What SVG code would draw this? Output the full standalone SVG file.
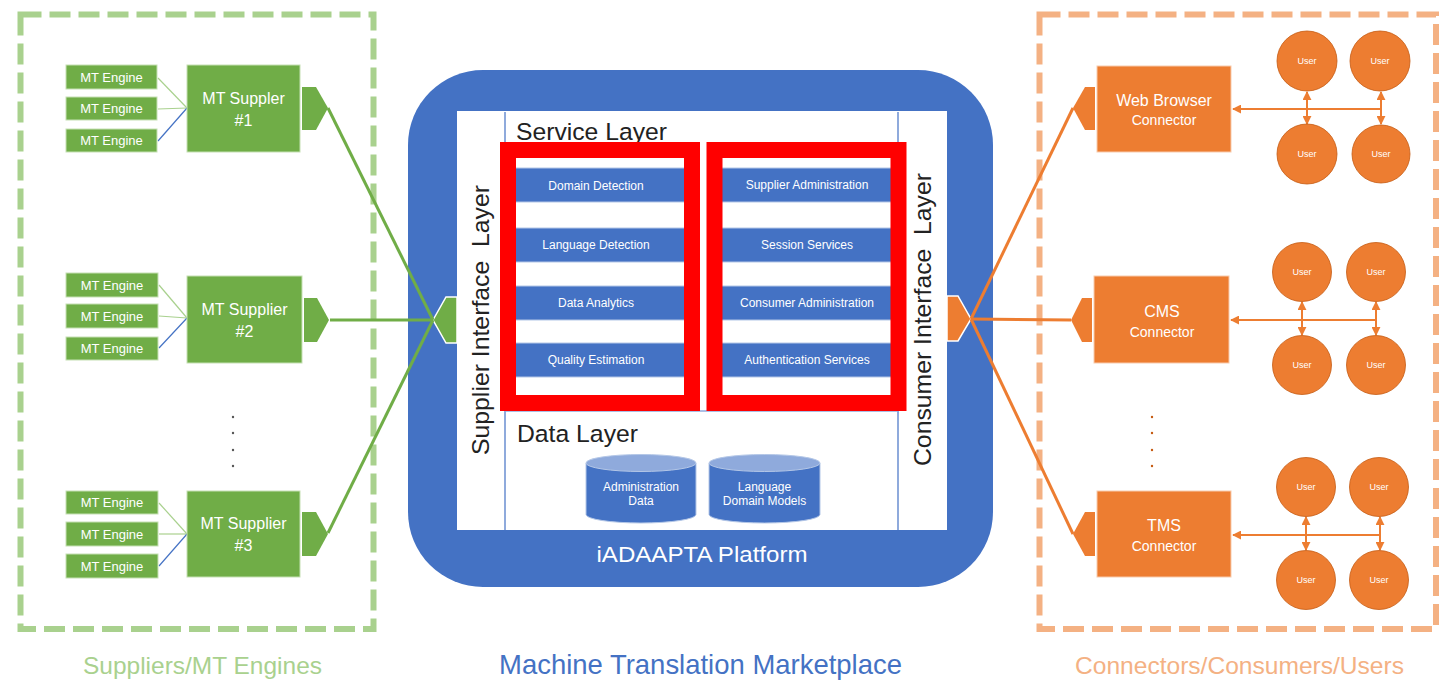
<svg xmlns="http://www.w3.org/2000/svg" width="1439" height="681" viewBox="0 0 1439 681">
<defs>
<style>
.t{font-family:"Liberation Sans",Arial,sans-serif;text-anchor:middle;fill:#fff}
.h{font-family:"Liberation Sans",Arial,sans-serif;fill:#222}
.eng{fill:#70ad47;stroke:#c5e0b4;stroke-width:1}
.sup{fill:#70ad47;stroke:#c5e0b4;stroke-width:1}
.svc{fill:#4472c4;stroke:#b4c7e7;stroke-width:1}
.usr{fill:#ed7d31;stroke:#c55a11;stroke-width:0.8}
.con{fill:#ed7d31;stroke:#f8cbad;stroke-width:1}
.gl{stroke:#70ad47;stroke-width:3;fill:none}
.ol{stroke:#ed7d31;stroke-width:3;fill:none}
.el{stroke:#a9d18e;stroke-width:1.2}
.eb{stroke:#4472c4;stroke-width:1.2}
.ua{stroke:#ed7d31;stroke-width:2;fill:none}
.red{fill:none;stroke:#ff0000;stroke-width:16}
.div{stroke:#8faadc;stroke-width:2}
</style>
<marker id="ah" viewBox="0 0 10 10" refX="9" refY="5" markerWidth="9" markerHeight="9" markerUnits="userSpaceOnUse" orient="auto-start-reverse">
<path d="M0,0 L10,5 L0,10 Z" fill="#ed7d31"/>
</marker>
</defs>
<rect width="1439" height="681" fill="#ffffff"/>

<!-- group frames -->
<g id="suppliers-frame">
<rect x="20.5" y="14.5" width="353" height="614.5" fill="none" stroke="#a9d18e" stroke-width="6" stroke-dasharray="21 8"/>
<text x="202.5" y="674" font-family="Liberation Sans,Arial,sans-serif" font-size="24.5" fill="#a9d18e" text-anchor="middle" textLength="239" lengthAdjust="spacingAndGlyphs">Suppliers/MT Engines</text>
</g>
<g id="consumers-frame">
<rect x="1039.5" y="14.5" width="396.5" height="614.5" fill="none" stroke="#f4b183" stroke-width="6" stroke-dasharray="21 8"/>
<text x="1239.5" y="674" font-family="Liberation Sans,Arial,sans-serif" font-size="24.5" fill="#f4b183" text-anchor="middle" textLength="329" lengthAdjust="spacingAndGlyphs">Connectors/Consumers/Users</text>
</g>

<!-- platform -->
<g id="platform">
<rect x="408" y="70" width="585" height="517" rx="75" ry="75" fill="#4472c4"/>
<rect x="457" y="111" width="490" height="419" fill="#ffffff"/>
<line class="div" x1="505" y1="112" x2="505" y2="530"/>
<line class="div" x1="898" y1="112" x2="898" y2="530"/>
<line stroke="#8faadc" stroke-width="1.5" x1="505" y1="411" x2="898" y2="411"/>
<text class="t" x="702" y="562" font-size="21.5" textLength="211" lengthAdjust="spacingAndGlyphs">iADAAPTA Platform</text>
</g>
<text id="marketplace-label" x="700.5" y="674" font-family="Liberation Sans,Arial,sans-serif" font-size="27.4" fill="#4472c4" text-anchor="middle" textLength="403" lengthAdjust="spacingAndGlyphs">Machine Translation Marketplace</text>

<g id="supplier-interface-layer">
<text class="h" xml:space="preserve" transform="translate(489,320) rotate(-90)" font-size="24.5" text-anchor="middle" textLength="270" lengthAdjust="spacingAndGlyphs">Supplier Interface  Layer</text>
<polygon points="433,320 446,297 457,297 457,343 446,343" fill="#70ad47" stroke="#ffffff" stroke-width="1.5"/>
</g>
<g id="consumer-interface-layer">
<text class="h" xml:space="preserve" transform="translate(931,319.5) rotate(-90)" font-size="24.5" text-anchor="middle" textLength="293" lengthAdjust="spacingAndGlyphs">Consumer Interface  Layer</text>
<polygon points="947,296 958,296 971,319 958,341 947,341" fill="#ed7d31" stroke="#ffffff" stroke-width="1.5"/>
</g>

<g id="service-layer">
<text class="h" x="516" y="140" font-size="24.5" textLength="151" lengthAdjust="spacingAndGlyphs">Service Layer</text>
<g id="svc-domain"><rect class="svc" x="508" y="168" width="178" height="34"/><text class="t" x="596" y="190" font-size="12">Domain Detection</text></g>
<g id="svc-language"><rect class="svc" x="508" y="228" width="178" height="34"/><text class="t" x="596" y="249" font-size="12">Language Detection</text></g>
<g id="svc-analytics"><rect class="svc" x="508" y="286" width="178" height="34"/><text class="t" x="596" y="307" font-size="12">Data Analytics</text></g>
<g id="svc-quality"><rect class="svc" x="508" y="343" width="178" height="34"/><text class="t" x="596" y="364" font-size="12">Quality Estimation</text></g>
<g id="svc-supplier-admin"><rect class="svc" x="718" y="168" width="178" height="34"/><text class="t" x="807" y="189" font-size="12">Supplier Administration</text></g>
<g id="svc-session"><rect class="svc" x="718" y="228" width="178" height="34"/><text class="t" x="807" y="249" font-size="12">Session Services</text></g>
<g id="svc-consumer-admin"><rect class="svc" x="718" y="286" width="178" height="34"/><text class="t" x="807" y="307" font-size="12">Consumer Administration</text></g>
<g id="svc-auth"><rect class="svc" x="718" y="343" width="178" height="34"/><text class="t" x="807" y="364" font-size="12">Authentication Services</text></g>
<rect class="red" x="508" y="150" width="184" height="253"/>
<rect class="red" x="714.5" y="150" width="184" height="253"/>
</g>

<g id="data-layer">
<text class="h" x="517" y="442" font-size="24.5" textLength="121" lengthAdjust="spacingAndGlyphs">Data Layer</text>
<g id="db-admin">
<path d="M586,463 L586,514.5 A55,8.5 0 0 0 696,514.5 L696,463 Z" fill="#4472c4" stroke="#b4c7e7" stroke-width="1"/>
<ellipse cx="641" cy="463" rx="55" ry="8.5" fill="#8faadc" stroke="#b4c7e7" stroke-width="1"/>
<text class="t" x="641" y="491" font-size="12">Administration</text>
<text class="t" x="641" y="505" font-size="12">Data</text>
</g>
<g id="db-models">
<path d="M709,463 L709,514.5 A55.5,8.5 0 0 0 820,514.5 L820,463 Z" fill="#4472c4" stroke="#b4c7e7" stroke-width="1"/>
<ellipse cx="764.5" cy="463" rx="55.5" ry="8.5" fill="#8faadc" stroke="#b4c7e7" stroke-width="1"/>
<text class="t" x="764.5" y="491" font-size="12">Language</text>
<text class="t" x="764.5" y="505" font-size="12">Domain Models</text>
</g>
</g>

<!-- connectors -->
<g id="connectors">
<line class="el" x1="158" y1="78" x2="187" y2="108"/>
<line class="el" x1="158" y1="109" x2="187" y2="108"/>
<line class="eb" x1="158" y1="141" x2="187" y2="108"/>
<line class="el" x1="159" y1="285" x2="187" y2="318"/>
<line class="el" x1="159" y1="316" x2="187" y2="318"/>
<line class="eb" x1="159" y1="348" x2="187" y2="318"/>
<line class="el" x1="159" y1="503" x2="187" y2="534"/>
<line class="el" x1="159" y1="534" x2="187" y2="534"/>
<line class="eb" x1="159" y1="566" x2="187" y2="534"/>
<line class="gl" x1="328" y1="108" x2="433" y2="320"/>
<line class="gl" x1="330" y1="320" x2="433" y2="320"/>
<line class="gl" x1="328" y1="533" x2="433" y2="320"/>
<line class="ol" x1="971" y1="319" x2="1073" y2="108"/>
<line class="ol" x1="971" y1="319" x2="1071" y2="320"/>
<line class="ol" x1="971" y1="319" x2="1073" y2="534"/>
<line class="ua" x1="1381" y1="109" x2="1233" y2="109" marker-end="url(#ah)"/>
<line class="ua" x1="1307" y1="92" x2="1307" y2="124" marker-start="url(#ah)" marker-end="url(#ah)"/>
<line class="ua" x1="1381" y1="92" x2="1381" y2="124" marker-start="url(#ah)" marker-end="url(#ah)"/>
<line class="ua" x1="1376" y1="320" x2="1231" y2="320" marker-end="url(#ah)"/>
<line class="ua" x1="1302" y1="302" x2="1302" y2="335" marker-start="url(#ah)" marker-end="url(#ah)"/>
<line class="ua" x1="1376" y1="302" x2="1376" y2="335" marker-start="url(#ah)" marker-end="url(#ah)"/>
<line class="ua" x1="1380" y1="535" x2="1233" y2="535" marker-end="url(#ah)"/>
<line class="ua" x1="1306" y1="517" x2="1306" y2="550" marker-start="url(#ah)" marker-end="url(#ah)"/>
<line class="ua" x1="1380" y1="517" x2="1380" y2="550" marker-start="url(#ah)" marker-end="url(#ah)"/>
</g>

<!-- suppliers -->
<g id="engine-1a"><rect class="eng" x="66" y="65" width="91" height="24"/><text class="t" x="111.5" y="82" font-size="13">MT Engine</text></g>
<g id="engine-1b"><rect class="eng" x="66" y="97" width="91" height="23"/><text class="t" x="111.5" y="113" font-size="13">MT Engine</text></g>
<g id="engine-1c"><rect class="eng" x="66" y="129" width="91" height="23"/><text class="t" x="111.5" y="145" font-size="13">MT Engine</text></g>
<g id="supplier-1">
<rect class="sup" x="187" y="65" width="113" height="87"/>
<text class="t" x="243.5" y="104" font-size="16">MT Suppler</text>
<text class="t" x="243.5" y="126" font-size="16">#1</text>
<polygon points="302,87 316,87 328,108 316,130 302,130" fill="#70ad47"/>
</g>
<g id="engine-2a"><rect class="eng" x="66" y="273" width="92" height="24"/><text class="t" x="112" y="290" font-size="13">MT Engine</text></g>
<g id="engine-2b"><rect class="eng" x="66" y="304" width="92" height="24"/><text class="t" x="112" y="321" font-size="13">MT Engine</text></g>
<g id="engine-2c"><rect class="eng" x="66" y="337" width="92" height="23"/><text class="t" x="112" y="353" font-size="13">MT Engine</text></g>
<g id="supplier-2">
<rect class="sup" x="187" y="276" width="115" height="87"/>
<text class="t" x="244.5" y="315" font-size="16">MT Supplier</text>
<text class="t" x="244.5" y="337" font-size="16">#2</text>
<polygon points="304,298 317,298 329,320 317,342 304,342" fill="#70ad47"/>
</g>
<g id="ellipsis-left" fill="#555">
<circle cx="233" cy="417" r="1.2"/><circle cx="233" cy="433" r="1.2"/><circle cx="233" cy="450" r="1.2"/><circle cx="233" cy="466" r="1.2"/>
</g>
<g id="engine-3a"><rect class="eng" x="66" y="491" width="92" height="23"/><text class="t" x="112" y="507" font-size="13">MT Engine</text></g>
<g id="engine-3b"><rect class="eng" x="66" y="522" width="92" height="24"/><text class="t" x="112" y="539" font-size="13">MT Engine</text></g>
<g id="engine-3c"><rect class="eng" x="66" y="554" width="92" height="24"/><text class="t" x="112" y="571" font-size="13">MT Engine</text></g>
<g id="supplier-3">
<rect class="sup" x="187" y="491" width="113" height="86"/>
<text class="t" x="243.5" y="529" font-size="16">MT Supplier</text>
<text class="t" x="243.5" y="551" font-size="16">#3</text>
<polygon points="302,512 316,512 328,534 316,556 302,556" fill="#70ad47"/>
</g>

<!-- consumers -->
<g id="web-browser-connector">
<rect class="con" x="1097" y="66" width="134" height="86"/>
<text class="t" x="1164" y="106" font-size="16">Web Browser</text>
<text class="t" x="1164" y="125" font-size="14">Connector</text>
<polygon points="1073,108 1085,87 1095,87 1095,130 1085,130" fill="#ed7d31"/>
</g>
<g id="cms-connector">
<rect class="con" x="1094" y="276" width="135" height="87"/>
<text class="t" x="1162" y="317" font-size="16">CMS</text>
<text class="t" x="1162" y="337" font-size="14">Connector</text>
<polygon points="1071,320 1082,298 1092,298 1092,342 1082,342" fill="#ed7d31"/>
</g>
<g id="ellipsis-right" fill="#c55a11">
<circle cx="1152" cy="417" r="1.2"/><circle cx="1152" cy="433" r="1.2"/><circle cx="1152" cy="450" r="1.2"/><circle cx="1152" cy="466" r="1.2"/>
</g>
<g id="tms-connector">
<rect class="con" x="1097" y="491" width="134" height="86"/>
<text class="t" x="1164" y="531" font-size="16">TMS</text>
<text class="t" x="1164" y="551" font-size="14">Connector</text>
<polygon points="1073,534 1085,512 1095,512 1095,556 1085,556" fill="#ed7d31"/>
</g>

<g id="user-1a"><circle class="usr" cx="1307" cy="61" r="30"/><text class="t" x="1307" y="64" font-size="9">User</text></g>
<g id="user-1b"><circle class="usr" cx="1380" cy="61" r="30"/><text class="t" x="1380" y="64" font-size="9">User</text></g>
<g id="user-1c"><circle class="usr" cx="1307" cy="154" r="30"/><text class="t" x="1307" y="157" font-size="9">User</text></g>
<g id="user-1d"><circle class="usr" cx="1381" cy="154" r="29"/><text class="t" x="1381" y="157" font-size="9">User</text></g>
<g id="user-2a"><circle class="usr" cx="1302" cy="272" r="29.5"/><text class="t" x="1302" y="275" font-size="9">User</text></g>
<g id="user-2b"><circle class="usr" cx="1376" cy="272" r="29.5"/><text class="t" x="1376" y="275" font-size="9">User</text></g>
<g id="user-2c"><circle class="usr" cx="1302" cy="365" r="29.5"/><text class="t" x="1302" y="368" font-size="9">User</text></g>
<g id="user-2d"><circle class="usr" cx="1376" cy="365" r="29.5"/><text class="t" x="1376" y="368" font-size="9">User</text></g>
<g id="user-3a"><circle class="usr" cx="1306" cy="487" r="29.5"/><text class="t" x="1306" y="490" font-size="9">User</text></g>
<g id="user-3b"><circle class="usr" cx="1379" cy="487" r="29.5"/><text class="t" x="1379" y="490" font-size="9">User</text></g>
<g id="user-3c"><circle class="usr" cx="1306" cy="580" r="29.5"/><text class="t" x="1306" y="583" font-size="9">User</text></g>
<g id="user-3d"><circle class="usr" cx="1379" cy="580" r="29.5"/><text class="t" x="1379" y="583" font-size="9">User</text></g>
</svg>
